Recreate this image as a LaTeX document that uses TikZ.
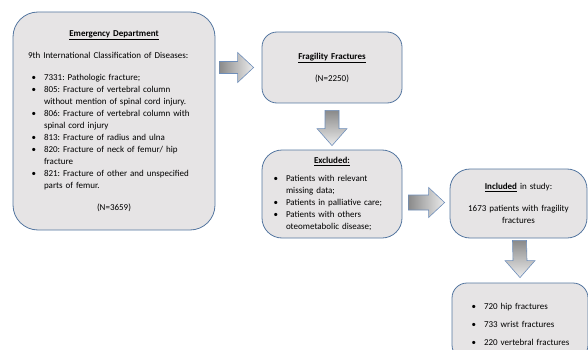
\documentclass[tikz,border=0pt]{standalone}
\usepackage{fontspec}
\setmainfont{Carlito}
\usepackage{enumitem}
\usetikzlibrary{calc}

\definecolor{boxfill}{RGB}{230,228,229}
\definecolor{boxline}{RGB}{84,118,160}
\definecolor{arrowline}{RGB}{110,142,186}
\definecolor{arrowdark}{RGB}{138,138,138}
\definecolor{arrowlight}{RGB}{236,236,236}

\setlist[itemize]{nosep,leftmargin=16pt,labelsep=8pt,label=\textbullet}
\frenchspacing

% block arrow pointing right: start, tip, half shaft
\newcommand{\harrowblock}[3]{%
  \draw[harrow] ($(#1)+(0,-#3)$) -- ($(#2)+(-16,-#3)$) -- ($(#2)+(-16,-15)$) -- (#2)
    -- ($(#2)+(-16,15)$) -- ($(#2)+(-16,#3)$) -- ($(#1)+(0,#3)$) -- cycle;}
% block arrow pointing down: start, tip
\newcommand{\varrowblock}[2]{%
  \draw[varrow] ($(#1)+(-7,0)$) -- ($(#2)+(-7,-17)$) -- ($(#2)+(-15,-17)$) -- (#2)
    -- ($(#2)+(15,-17)$) -- ($(#2)+(7,-17)$) -- ($(#1)+(7,0)$) -- cycle;}

\begin{document}
\begin{tikzpicture}[x=1pt,y=-1pt,
  flowbox/.style={draw=boxline,fill=boxfill,line width=0.8pt,inner sep=0pt,align=left,
    font=\fontsize{9}{12}\selectfont\frenchspacing},
  harrow/.style={draw=arrowline,line width=0.6pt,left color=arrowdark,right color=arrowlight},
  varrow/.style={draw=arrowline,line width=0.6pt,top color=arrowdark,bottom color=arrowlight}]
\useasboundingbox (0,0) rectangle (588,350);
\clip (0,0) rectangle (588,350);

%Box: emergency department
\node[flowbox,rounded corners=25pt,minimum width=202pt,minimum height=218pt,text width=172pt] (ed) at (114,121) {%
  \centerline{\underline{\textbf{Emergency Department}}}\par\vspace{10pt}
  9th International Classification of Diseases:\par\vspace{10pt}
  \begin{itemize}
  \item 7331: Pathologic fracture;
  \item 805: Fracture of vertebral column\newline without mention of spinal cord injury.
  \item 806: Fracture of vertebral column with\newline spinal cord injury
  \item 813: Fracture of radius and ulna
  \item 820: Fracture of neck of femur/ hip\newline fracture
  \item 821: Fracture of other and unspecified\newline parts of femur.
  \end{itemize}\vspace{10pt}
  \centerline{(N=3659)}};

%Box: fragility fractures
\node[flowbox,rounded corners=15pt,minimum width=140pt,minimum height=71pt,text width=120pt] (ff) at (332,67.5) {%
  \centerline{\underline{\textbf{Fragility Fractures}}}\par\vspace{10pt}
  \centerline{(N=2250)}};

%Box: excluded
\node[flowbox,rounded corners=20pt,minimum width=140pt,minimum height=88pt,text width=120pt] (ex) at (332,194) {%
  \centerline{\underline{\textbf{Excluded:}}}\par\vspace{6pt}
  \begin{itemize}[leftmargin=14pt]
  \item Patients with relevant\newline missing data;
  \item Patients in palliative care;
  \item Patients with others\newline oteometabolic disease;
  \end{itemize}};

%Box: included in study
\node[flowbox,rounded corners=20pt,minimum width=137pt,minimum height=69pt,text width=120pt] (inc) at (518.5,203.5) {%
  \centerline{\underline{\textbf{Included}} in study:}\par\vspace{10pt}
  \centerline{1673 patients with fragility}
  \centerline{fractures}};

%Box: fracture sites
\node[flowbox,rounded corners=15pt,minimum width=136pt,minimum height=77pt,text width=108pt] (site) at (520,321.5) {%
  \begin{itemize}[leftmargin=18pt,itemsep=6pt]
  \item 720 hip fractures
  \item 733 wrist fractures
  \item 220 vertebral fractures
  \end{itemize}};

%Arrows
\coordinate (a1s) at ($(ed.east |- ff.west)+(4,0)$);
\coordinate (a1e) at ($(ff.west)+(-8,0)$);
\harrowblock{a1s}{a1e}{6}
\coordinate (a2s) at ($(ff.south)+(0,7)$);
\coordinate (a2e) at ($(ex.north)+(0,-4)$);
\varrowblock{a2s}{a2e}
\coordinate (a3s) at ($(ex.east |- inc.west)+(6,-1)$);
\coordinate (a3e) at ($(inc.west)+(-5,-1)$);
\harrowblock{a3s}{a3e}{7.5}
\coordinate (a4s) at ($(inc.south)+(1,2)$);
\coordinate (a4e) at ($(site.north)+(0,-5)$);
\varrowblock{a4s}{a4e}

\end{tikzpicture}
\end{document}
